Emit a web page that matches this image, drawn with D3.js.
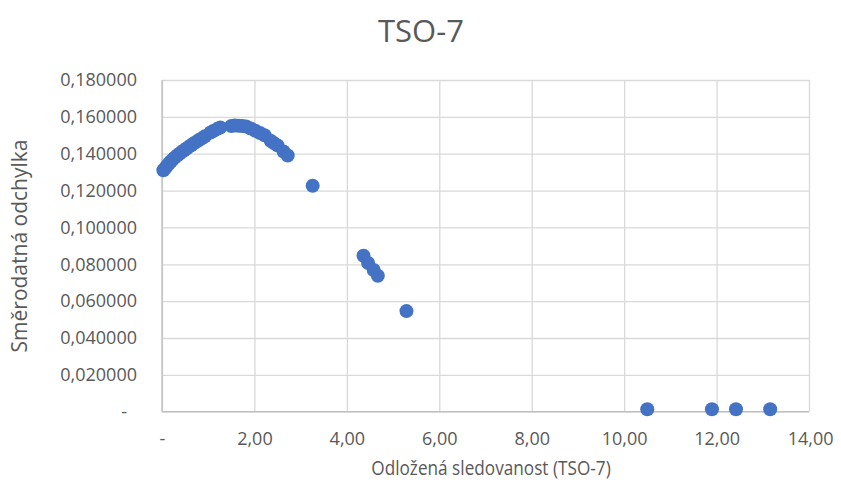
<!DOCTYPE html>
<html>
<head>
<meta charset="utf-8">
<script src="https://cdn.jsdelivr.net/npm/d3@7"></script>
<style>
  html, body { margin: 0; padding: 0; background: #fff; }
  svg { display: block; }
  svg text { font-family: "Open Sans", "Noto Sans", sans-serif; }
</style>
</head>
<body>
<svg id="chart" width="841" height="488"></svg>
<script>
// ---- Data ----
const chartTitle = "TSO-7";
const xTitle = "Odložená sledovanost (TSO-7)";
const yTitle = "Směrodatná odchylka";

const xValues = [
  0.03, 0.07, 0.11, 0.15, 0.19, 0.23, 0.28, 0.33, 0.38, 0.43,
  0.48, 0.53, 0.58, 0.63, 0.68, 0.74, 0.80, 0.86, 0.93, 1.05,
  1.12, 1.20, 1.26, 1.50, 1.58, 1.66, 1.74, 1.82, 1.92, 2.02,
  2.12, 2.22, 2.35, 2.42, 2.50, 2.63, 2.72, 3.26, 4.36, 4.46,
  4.58, 4.67, 5.29, 10.50, 11.90, 12.42, 13.16
];
const yValues = [
  0.1310, 0.1322, 0.1335, 0.1347, 0.1358, 0.1368, 0.1380, 0.1391, 0.1400, 0.1410,
  0.1419, 0.1428, 0.1437, 0.1446, 0.1455, 0.1464, 0.1474, 0.1483, 0.1495, 0.1515,
  0.1525, 0.1535, 0.1542, 0.1550, 0.1553, 0.1552, 0.1550, 0.1548, 0.1537, 0.1525,
  0.1512, 0.1500, 0.1470, 0.1458, 0.1445, 0.1412, 0.1390, 0.1226, 0.0846, 0.0807,
  0.0769, 0.0738, 0.0546, 0.0013, 0.0013, 0.0013, 0.0013
];

const xTicks = [0, 2, 4, 6, 8, 10, 12, 14];
const yTicks = [0, 0.02, 0.04, 0.06, 0.08, 0.10, 0.12, 0.14, 0.16, 0.18];

// ---- Layout ----
const svg = d3.select("#chart");
const plot = { left: 162, right: 809, top: 80, bottom: 411.7 };
const textColor = "#595959";
const fontFam = '"Open Sans", "Noto Sans", sans-serif';

const x = d3.scaleLinear().domain([0, 14]).range([plot.left, plot.right]);
const y = d3.scaleLinear().domain([0, 0.18]).range([plot.bottom, plot.top]);

const fmtX = v => v === 0 ? "-" : d3.format(".2f")(v).replace(".", ",");
const fmtY = v => v === 0 ? "-" : d3.format(".6f")(v).replace(".", ",");

// Gridlines
const gx = svg.append("g").attr("transform", `translate(0,${plot.bottom})`)
  .call(d3.axisBottom(x).tickValues(xTicks).tickSize(-(plot.bottom - plot.top)).tickFormat(""));
gx.select(".domain").remove();
gx.selectAll(".tick line").attr("stroke", "#d9d9d9").attr("stroke-width", 1.3);

const gy = svg.append("g").attr("transform", `translate(${plot.left},0)`)
  .call(d3.axisLeft(y).tickValues(yTicks).tickSize(-(plot.right - plot.left)).tickFormat(""));
gy.select(".domain").remove();
gy.selectAll(".tick line").attr("stroke", "#d9d9d9").attr("stroke-width", 1.3);

// Axis lines
svg.append("line").attr("x1", plot.left).attr("x2", plot.left)
  .attr("y1", plot.top).attr("y2", plot.bottom).attr("stroke", "#bfbfbf").attr("stroke-width", 1.3);
svg.append("line").attr("x1", plot.left).attr("x2", plot.right)
  .attr("y1", plot.bottom).attr("y2", plot.bottom).attr("stroke", "#bfbfbf").attr("stroke-width", 1.3);

// Tick labels
const xl = svg.append("g").attr("transform", `translate(0,${plot.bottom + 28})`)
  .call(d3.axisBottom(x).tickValues(xTicks).tickSize(0).tickPadding(0).tickFormat(fmtX));
xl.attr("font-family", null);
xl.select(".domain").remove();
xl.selectAll("text").attr("fill", textColor)
  .style("font-family", fontFam).style("font-size", "18px")
  .attr("dy", "0.32em")
  .attr("text-anchor", d => d === 14 ? "end" : "middle")
  .attr("dx", d => d === 14 ? "24" : 0);

const yl = svg.append("g").attr("transform", `translate(${plot.left - 25},0)`)
  .call(d3.axisLeft(y).tickValues(yTicks).tickSize(0).tickPadding(0).tickFormat(fmtY));
yl.attr("font-family", null);
yl.select(".domain").remove();
yl.selectAll("text").attr("fill", textColor)
  .style("font-family", fontFam).style("font-size", "18px")
  .attr("dx", d => d === 0 ? -10 : 0);

// Points
svg.append("g").selectAll("circle")
  .data(xValues.map((v, i) => [v, yValues[i]]))
  .join("circle")
  .attr("cx", d => x(d[0]))
  .attr("cy", d => y(d[1]))
  .attr("r", 7)
  .attr("fill", "#4472c4");

// Titles
svg.append("text").attr("x", 421).attr("y", 42).attr("text-anchor", "middle")
  .attr("fill", textColor).style("font-size", "31px").text(chartTitle);

svg.append("text").attr("transform", "translate(491,475) scale(0.86,1)")
  .attr("text-anchor", "middle")
  .attr("fill", textColor).style("font-size", "20px").text(xTitle);

svg.append("text").attr("transform", `translate(27,246) rotate(-90)`)
  .attr("text-anchor", "middle")
  .attr("fill", textColor).style("font-size", "21px").text(yTitle);
</script>
</body>
</html>
